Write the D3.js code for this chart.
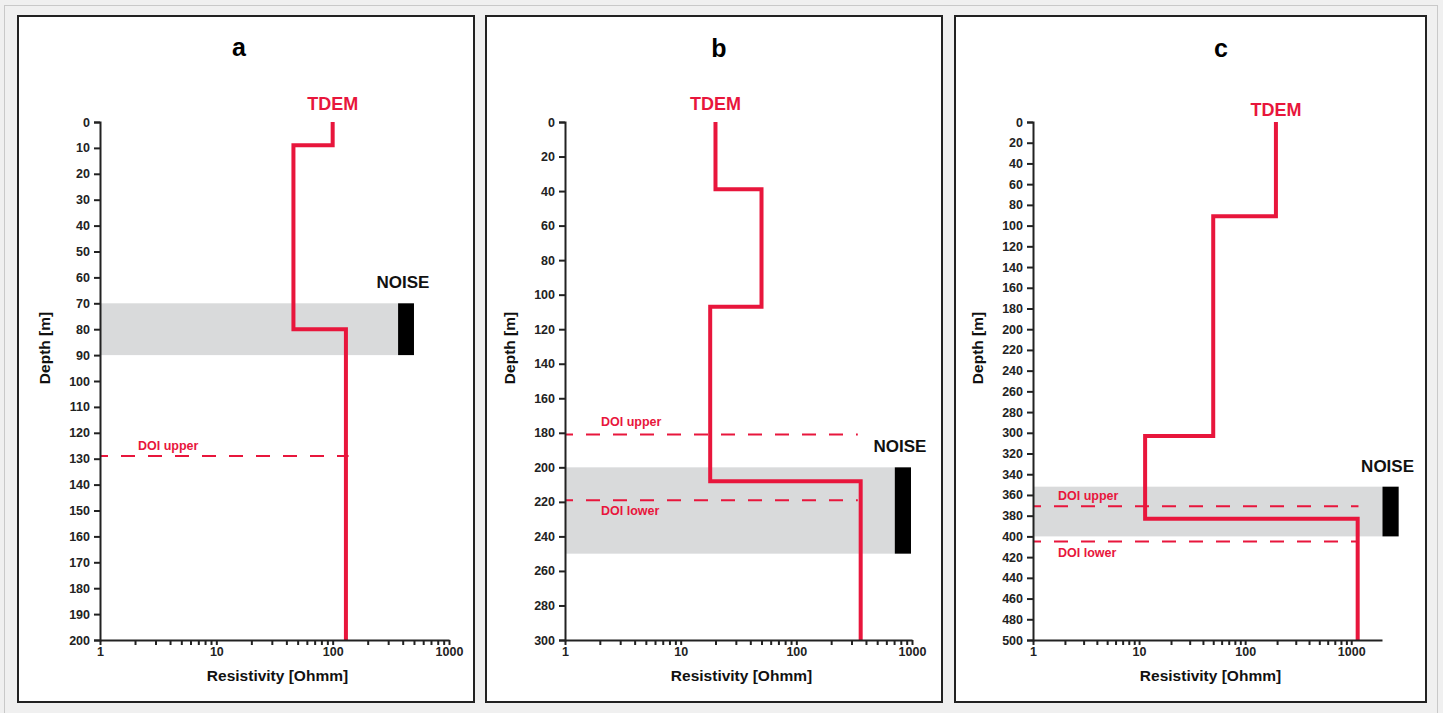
<!DOCTYPE html>
<html>
<head>
<meta charset="utf-8">
<script src="https://cdn.jsdelivr.net/npm/d3@7"></script>
<style>
  body { margin: 0; background: #f0f0f0; }
  svg { display: block; font-family: "Liberation Sans", Arial, sans-serif; }
  .tick text { font-size: 12.5px; font-weight: bold; fill: #222; }
  .tick line, .domain { stroke: #222; stroke-width: 2px; }
</style>
</head>
<body>
<script>

// panel settings
var panelTitles = ["a", "b", "c"];
var depthMax = [200, 300, 500];
var depthStep = [10, 20, 20];
var resMax = [1000, 1000, 1950];

// TDEM layered models (layer top depth in m, resistivity in Ohmm)
var tdemTopsA = [0, 9, 80];
var tdemResA = [100, 46, 130];
var tdemTopsB = [0, 39, 107, 208];
var tdemResB = [20, 50, 18, 360];
var tdemTopsC = [0, 91, 303, 383];
var tdemResC = [195, 50, 11.4, 1150];

// noise zone (depth range) and the extent of band / black bar in Ohmm
var noiseTop = [70, 200, 352];
var noiseBottom = [90, 250, 400];
var noiseBandEnd = [365, 710, 1970];
var noiseBarEnd = [500, 980, 2800];

// depth of investigation
var doiUpper = [129, 181, 371];
var doiLower = [null, 219, 405];
var doiLineEnd = [137, 340, 1170];

var tops = [tdemTopsA, tdemTopsB, tdemTopsC];
var res = [tdemResA, tdemResB, tdemResC];

//Layout
var W = 1443, H = 713;
var red = "#e8163c";
var boxes = [
  {x: 18, w: 456, axisX: 100, axisW: 349, titleX: 239, titleY: 56, tdemDy: 12, doiDx: 38},
  {x: 486, w: 456, axisX: 565, axisW: 347, titleX: 719, titleY: 57, tdemDy: 12, doiDx: 36},
  {x: 955, w: 471, axisX: 1033, axisW: 349, titleX: 1221, titleY: 57, tdemDy: 6, doiDx: 25}
];
var plotTop = 122, plotBottom = 640;

var svg = d3.select("body").append("svg")
  .attr("width", W)
  .attr("height", H);

svg.append("rect")
  .attr("x", 4.5).attr("y", 5.5)
  .attr("width", 1433).attr("height", 712)
  .attr("fill", "#f0f0f0")
  .attr("stroke", "#c9c9c9");

panelTitles.forEach(function(title, i){
  var b = boxes[i];

  svg.append("rect")
    .attr("x", b.x).attr("y", 16)
    .attr("width", b.w).attr("height", 686)
    .attr("fill", "#fff")
    .attr("stroke", "#222")
    .attr("stroke-width", 2);

  var x = d3.scaleLog()
    .domain([1, resMax[i]])
    .range([b.axisX, b.axisX + b.axisW]);
  var y = d3.scaleLinear()
    .domain([0, depthMax[i]])
    .range([plotTop, plotBottom]);

  var g = svg.append("g");

  //noise band and bar
  g.append("rect")
    .attr("x", x(1))
    .attr("y", y(noiseTop[i]))
    .attr("width", x(noiseBandEnd[i]) - x(1))
    .attr("height", y(noiseBottom[i]) - y(noiseTop[i]))
    .attr("fill", "#d9dadb");
  g.append("rect")
    .attr("x", x(noiseBandEnd[i]))
    .attr("y", y(noiseTop[i]))
    .attr("width", x(noiseBarEnd[i]) - x(noiseBandEnd[i]))
    .attr("height", y(noiseBottom[i]) - y(noiseTop[i]))
    .attr("fill", "#000");
  g.append("text")
    .attr("x", (x(noiseBandEnd[i]) + x(noiseBarEnd[i])) / 2 - 3)
    .attr("y", y(noiseTop[i]) - 15)
    .attr("text-anchor", "middle")
    .attr("font-size", 17)
    .attr("font-weight", "bold")
    .attr("fill", "#111")
    .text("NOISE");

  //DOI lines
  var doi = [{d: doiUpper[i], name: "DOI upper", dy: -6}];
  if (doiLower[i] != null) doi.push({d: doiLower[i], name: "DOI lower", dy: 15});
  if (i == 1) doi[0].dy = -9;
  g.selectAll(".doi").data(doi).enter()
    .append("line")
    .attr("x1", x(1)).attr("x2", x(doiLineEnd[i]))
    .attr("y1", function(d){return y(d.d);})
    .attr("y2", function(d){return y(d.d);})
    .attr("stroke", red)
    .attr("stroke-width", 2)
    .attr("stroke-dasharray", "14,13")
    .attr("stroke-dashoffset", 6);
  g.selectAll(".doilabel").data(doi).enter()
    .append("text")
    .attr("x", b.axisX + b.doiDx)
    .attr("y", function(d){return y(d.d) + d.dy;})
    .attr("font-size", 12.5)
    .attr("font-weight", "bold")
    .attr("fill", red)
    .text(function(d){return d.name;});

  //TDEM step curve
  var pts = [];
  tops[i].forEach(function(t, k){
    var bottom = k < tops[i].length - 1 ? tops[i][k + 1] : depthMax[i];
    pts.push({r: res[i][k], d: t});
    pts.push({r: res[i][k], d: bottom});
  });
  g.append("path")
    .datum(pts)
    .attr("fill", "none")
    .attr("stroke", red)
    .attr("stroke-width", 4)
    .attr("d", d3.line()
      .x(function(d){return x(d.r);})
      .y(function(d){return y(d.d);}));
  g.append("text")
    .attr("x", x(res[i][0]))
    .attr("y", plotTop - b.tdemDy)
    .attr("text-anchor", "middle")
    .attr("font-size", 18)
    .attr("font-weight", "bold")
    .attr("fill", red)
    .text("TDEM");

  //axes
  g.append("g")
    .attr("transform", "translate(" + b.axisX + ",0)")
    .call(d3.axisLeft(y)
      .tickValues(d3.range(0, depthMax[i] + 1, depthStep[i]))
      .tickSize(6).tickPadding(4));
  g.append("g")
    .attr("transform", "translate(0," + plotBottom + ")")
    .call(d3.axisBottom(x)
      .tickValues(x.ticks().filter(function(d){return d <= resMax[i];}))
      .tickFormat(function(d){
        var l = Math.log10(d);
        return Math.abs(l - Math.round(l)) < 1e-9 ? d : "";
      })
      .tickSizeInner(5).tickSizeOuter(0).tickPadding(2));

  //titles
  g.append("text")
    .attr("x", b.titleX).attr("y", b.titleY)
    .attr("text-anchor", "middle")
    .attr("font-size", 25)
    .attr("font-weight", "bold")
    .attr("fill", "#000")
    .text(title);
  g.append("text")
    .attr("x", b.axisX + b.axisW / 2 + 3)
    .attr("y", 681)
    .attr("text-anchor", "middle")
    .attr("font-size", 15.5)
    .attr("font-weight", "bold")
    .attr("fill", "#111")
    .text("Resistivity [Ohmm]");
  g.append("text")
    .attr("transform", "translate(" + (b.axisX - 50) + ",348) rotate(-90)")
    .attr("text-anchor", "middle")
    .attr("font-size", 15.5)
    .attr("font-weight", "bold")
    .attr("fill", "#111")
    .text("Depth [m]");
});

</script>
</body>
</html>
